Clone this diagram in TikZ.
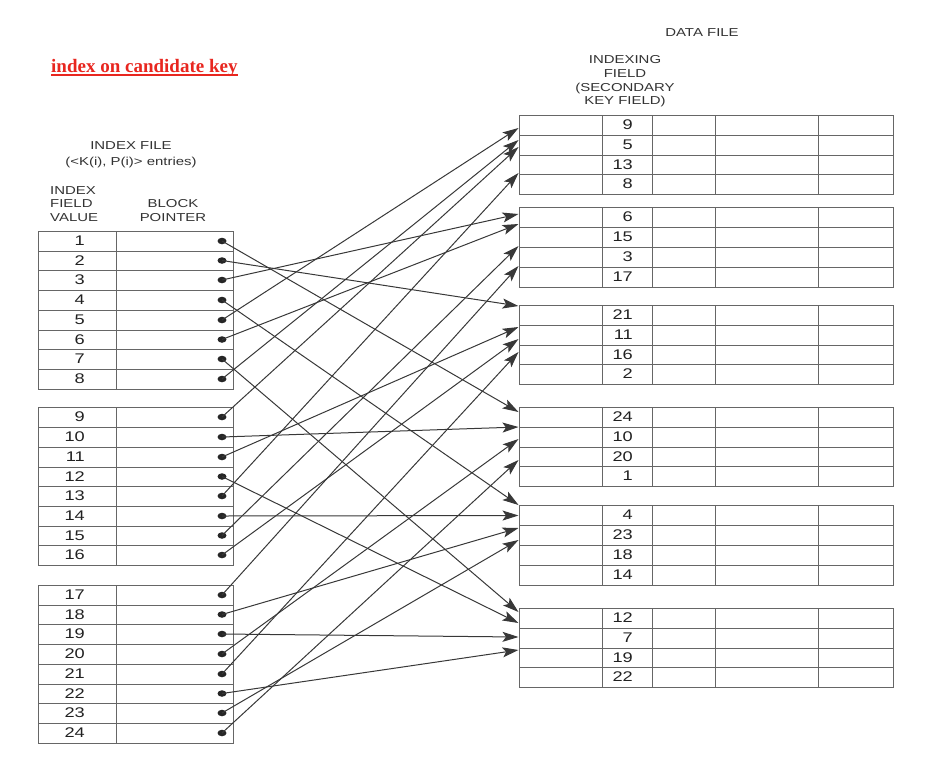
\documentclass[tikz,border=0pt]{standalone}
\usepackage{fontspec}
\setmainfont{Liberation Sans}
\newfontfamily\dfont[FakeStretch=1.3]{Liberation Sans}
\newfontfamily\tfont{Liberation Serif}
\usetikzlibrary{arrows.meta,shapes.geometric}

\definecolor{txtgray}{rgb}{0.200000, 0.200000, 0.200000}
\definecolor{numgray}{rgb}{0.130000, 0.130000, 0.130000}
\definecolor{tblgray}{rgb}{0.400000, 0.400000, 0.400000}
\definecolor{arrgray}{rgb}{0.220000, 0.220000, 0.220000}
\definecolor{titlered}{rgb}{0.910000, 0.150000, 0.120000}

\tikzset{
  tbl/.style={draw=tblgray, line width=1pt},
  keynum/.style={anchor=east, inner sep=0pt, text=numgray, font=\dfont\fontsize{14}{14}\selectfont},
  hdr/.style={inner sep=0pt, text=txtgray, align=center, font=\dfont\fontsize{11.5}{13.6}\selectfont},
  dot/.style={ellipse, fill=black!85, minimum width=9pt, minimum height=6.5pt, inner sep=0pt},
  ptr/.style={draw=arrgray, line width=1pt, -{Stealth[length=16pt,width=10pt,inset=3.5pt]}}
}

\begin{document}
\begin{tikzpicture}[x=1pt, y=-1pt]
\useasboundingbox (0,0) rectangle (933,758);

% title
\node[anchor=base west, inner sep=0pt, text=titlered, font=\tfont\bfseries\fontsize{19}{19}\selectfont] (ttl) at (51,72) {index on candidate key};
\draw[titlered, line width=1.3pt] ([yshift=-3pt]ttl.base west) -- ([yshift=-3pt]ttl.base east);

% headers
\node[hdr] (dfhead) at (702,33) {DATA FILE};
\node[hdr] (ixfield) at (625,81.5) {INDEXING\\FIELD\\(SECONDARY\\KEY FIELD)};
\node[hdr, font=\dfont\fontsize{11.5}{16}\selectfont] (ifhead) at (131,155) {INDEX FILE\\(<K(i), P(i)> entries)};
\node[hdr, align=left, anchor=west] (ifvalue) at (50,204) {INDEX\\FIELD\\VALUE};
\node[hdr] (ifptr) at (173,210.5) {BLOCK\\POINTER};

% index file blocks
\draw[tbl] (38,231) rectangle (233,389);
\draw[tbl] (116,231) -- (116,389);
\draw[tbl] (38,251) -- (233,251) (38,270) -- (233,270) (38,290) -- (233,290) (38,310) -- (233,310)
  (38,330) -- (233,330) (38,349) -- (233,349) (38,369) -- (233,369);
\draw[tbl] (38,407) rectangle (233,565);
\draw[tbl] (116,407) -- (116,565);
\draw[tbl] (38,427) -- (233,427) (38,447) -- (233,447) (38,467) -- (233,467) (38,486) -- (233,486)
  (38,506) -- (233,506) (38,526) -- (233,526) (38,545) -- (233,545);
\draw[tbl] (38,585) rectangle (233,743);
\draw[tbl] (116,585) -- (116,743);
\draw[tbl] (38,605) -- (233,605) (38,624) -- (233,624) (38,644) -- (233,644) (38,664) -- (233,664)
  (38,684) -- (233,684) (38,703) -- (233,703) (38,723) -- (233,723);

% index field values
\node[keynum] (k1) at (85,241) {1};
\node[keynum] (k2) at (85,260.5) {2};
\node[keynum] (k3) at (85,280) {3};
\node[keynum] (k4) at (85,300) {4};
\node[keynum] (k5) at (85,320) {5};
\node[keynum] (k6) at (85,339.5) {6};
\node[keynum] (k7) at (85,359) {7};
\node[keynum] (k8) at (85,379) {8};
\node[keynum] (k9) at (85,417) {9};
\node[keynum] (k10) at (85,437) {10};
\node[keynum] (k11) at (85,457) {11};
\node[keynum] (k12) at (85,476.5) {12};
\node[keynum] (k13) at (85,496) {13};
\node[keynum] (k14) at (85,516) {14};
\node[keynum] (k15) at (85,535.5) {15};
\node[keynum] (k16) at (85,555) {16};
\node[keynum] (k17) at (85,595) {17};
\node[keynum] (k18) at (85,614.5) {18};
\node[keynum] (k19) at (85,634) {19};
\node[keynum] (k20) at (85,654) {20};
\node[keynum] (k21) at (85,674) {21};
\node[keynum] (k22) at (85,693.5) {22};
\node[keynum] (k23) at (85,713) {23};
\node[keynum] (k24) at (85,733) {24};

% block pointers
\node[dot] (p1) at (222,241) {};
\node[dot] (p2) at (222,260.5) {};
\node[dot] (p3) at (222,280) {};
\node[dot] (p4) at (222,300) {};
\node[dot] (p5) at (222,320) {};
\node[dot] (p6) at (222,339.5) {};
\node[dot] (p7) at (222,359) {};
\node[dot] (p8) at (222,379) {};
\node[dot] (p9) at (222,417) {};
\node[dot] (p10) at (222,437) {};
\node[dot] (p11) at (222,457) {};
\node[dot] (p12) at (222,476.5) {};
\node[dot] (p13) at (222,496) {};
\node[dot] (p14) at (222,516) {};
\node[dot] (p15) at (222,535.5) {};
\node[dot] (p16) at (222,555) {};
\node[dot] (p17) at (222,595) {};
\node[dot] (p18) at (222,614.5) {};
\node[dot] (p19) at (222,634) {};
\node[dot] (p20) at (222,654) {};
\node[dot] (p21) at (222,674) {};
\node[dot] (p22) at (222,693.5) {};
\node[dot] (p23) at (222,713) {};
\node[dot] (p24) at (222,733) {};

% data file blocks
\draw[tbl] (519,115) rectangle (893,194);
\draw[tbl] (602,115) -- (602,194) (652,115) -- (652,194) (715,115) -- (715,194) (818,115) -- (818,194);
\draw[tbl] (519,135) -- (893,135) (519,155) -- (893,155) (519,174) -- (893,174);
\draw[tbl] (519,207) rectangle (893,287);
\draw[tbl] (602,207) -- (602,287) (652,207) -- (652,287) (715,207) -- (715,287) (818,207) -- (818,287);
\draw[tbl] (519,227) -- (893,227) (519,247) -- (893,247) (519,267) -- (893,267);
\draw[tbl] (519,305) rectangle (893,384);
\draw[tbl] (602,305) -- (602,384) (652,305) -- (652,384) (715,305) -- (715,384) (818,305) -- (818,384);
\draw[tbl] (519,325) -- (893,325) (519,345) -- (893,345) (519,364) -- (893,364);
\draw[tbl] (519,407) rectangle (893,486);
\draw[tbl] (602,407) -- (602,486) (652,407) -- (652,486) (715,407) -- (715,486) (818,407) -- (818,486);
\draw[tbl] (519,427) -- (893,427) (519,447) -- (893,447) (519,466) -- (893,466);
\draw[tbl] (519,505) rectangle (893,585);
\draw[tbl] (602,505) -- (602,585) (652,505) -- (652,585) (715,505) -- (715,585) (818,505) -- (818,585);
\draw[tbl] (519,525) -- (893,525) (519,545) -- (893,545) (519,565) -- (893,565);
\draw[tbl] (519,608) rectangle (893,687);
\draw[tbl] (602,608) -- (602,687) (652,608) -- (652,687) (715,608) -- (715,687) (818,608) -- (818,687);
\draw[tbl] (519,628) -- (893,628) (519,648) -- (893,648) (519,667) -- (893,667);

% indexing field values
\node[keynum] (d9) at (633,125) {9};
\node[keynum] (d5) at (633,145) {5};
\node[keynum] (d13) at (633,164.5) {13};
\node[keynum] (d8) at (633,184) {8};
\node[keynum] (d6) at (633,217) {6};
\node[keynum] (d15) at (633,237) {15};
\node[keynum] (d3) at (633,257) {3};
\node[keynum] (d17) at (633,277) {17};
\node[keynum] (d21) at (633,315) {21};
\node[keynum] (d11) at (633,335) {11};
\node[keynum] (d16) at (633,354.5) {16};
\node[keynum] (d2) at (633,374) {2};
\node[keynum] (d24) at (633,417) {24};
\node[keynum] (d10) at (633,437) {10};
\node[keynum] (d20) at (633,456.5) {20};
\node[keynum] (d1) at (633,476) {1};
\node[keynum] (d4) at (633,515) {4};
\node[keynum] (d23) at (633,535) {23};
\node[keynum] (d18) at (633,555) {18};
\node[keynum] (d14) at (633,575) {14};
\node[keynum] (d12) at (633,618) {12};
\node[keynum] (d7) at (633,638) {7};
\node[keynum] (d19) at (633,657.5) {19};
\node[keynum] (d22) at (633,677) {22};

% arrow ends on the data file
\coordinate (t5) at (518.5,128);
\coordinate (t8) at (518.5,140);
\coordinate (t9) at (518.5,147);
\coordinate (t13) at (518.5,173);
\coordinate (t3) at (518.5,214);
\coordinate (t6) at (518.5,224);
\coordinate (t15) at (518.5,246);
\coordinate (t17) at (518.5,266);
\coordinate (t2) at (518.5,306);
\coordinate (t11) at (518.5,327);
\coordinate (t16) at (518.5,339);
\coordinate (t21) at (518.5,352);
\coordinate (t1) at (518.5,412);
\coordinate (t10) at (518.5,427);
\coordinate (t20) at (518.5,439);
\coordinate (t24) at (518.5,460);
\coordinate (t4) at (518.5,505);
\coordinate (t14) at (518.5,515.5);
\coordinate (t18) at (518.5,528);
\coordinate (t23) at (518.5,540);
\coordinate (t7) at (518.5,612);
\coordinate (t12) at (518.5,623);
\coordinate (t19) at (518.5,637);
\coordinate (t22) at (518.5,650);

% pointers
\draw[ptr] (p1.center) -- (t1);
\draw[ptr] (p2.center) -- (t2);
\draw[ptr] (p3.center) -- (t3);
\draw[ptr] (p4.center) -- (t4);
\draw[ptr] (p5.center) -- (t5);
\draw[ptr] (p6.center) -- (t6);
\draw[ptr] (p7.center) -- (t7);
\draw[ptr] (p8.center) -- (t8);
\draw[ptr] (p9.center) -- (t9);
\draw[ptr] (p10.center) -- (t10);
\draw[ptr] (p11.center) -- (t11);
\draw[ptr] (p12.center) -- (t12);
\draw[ptr] (p13.center) -- (t13);
\draw[ptr] (p14.center) -- (t14);
\draw[ptr] (p15.center) -- (t15);
\draw[ptr] (p16.center) -- (t16);
\draw[ptr] (p17.center) -- (t17);
\draw[ptr] (p18.center) -- (t18);
\draw[ptr] (p19.center) -- (t19);
\draw[ptr] (p20.center) -- (t20);
\draw[ptr] (p21.center) -- (t21);
\draw[ptr] (p22.center) -- (t22);
\draw[ptr] (p23.center) -- (t23);
\draw[ptr] (p24.center) -- (t24);
\end{tikzpicture}
\end{document}
